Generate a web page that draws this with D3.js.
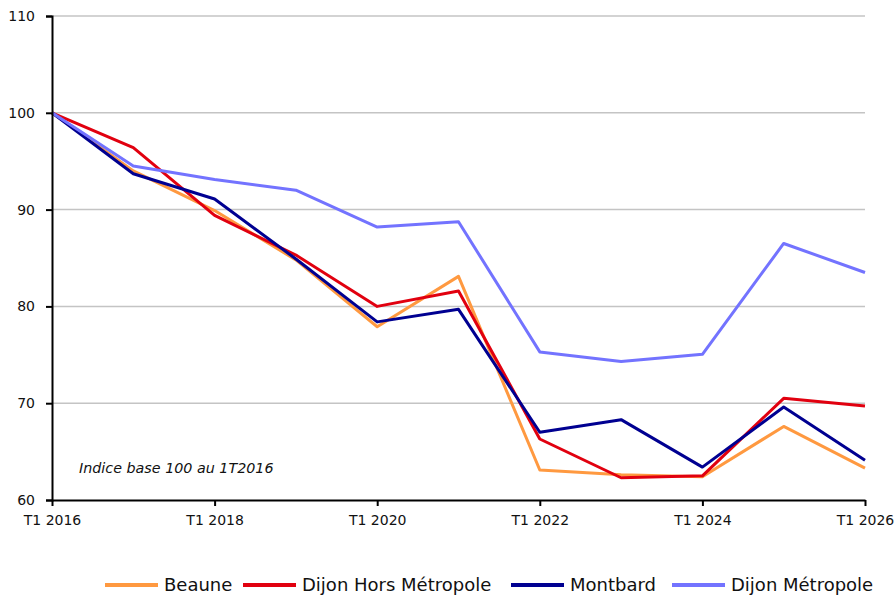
<!DOCTYPE html>
<html>
<head>
<meta charset="utf-8">
<script src="https://cdn.jsdelivr.net/npm/d3@7"></script>
<style>
  body { margin: 0; background: #fff; }
  svg { display: block; font-family: "DejaVu Sans", sans-serif; }
</style>
</head>
<body>
<svg id="chart" width="895" height="596"></svg>
<script>
var years = [2016, 2017, 2018, 2019, 2020, 2021, 2022, 2023, 2024, 2025, 2026];
var tickYears = [2016, 2018, 2020, 2022, 2024, 2026];
var yTicks = [60, 70, 80, 90, 100, 110];

var beaune = [100, 94.0, 89.9, 84.8, 77.9, 83.1, 63.1, 62.6, 62.4, 67.6, 63.3];
var dijonHors = [100, 96.4, 89.4, 85.3, 80.0, 81.6, 66.3, 62.3, 62.5, 70.5, 69.7];
var montbard = [100, 93.7, 91.1, 84.9, 78.4, 79.7, 67.0, 68.3, 63.4, 69.6, 64.1];
var dijonMetro = [100, 94.5, 93.1, 92.0, 88.2, 88.75, 75.3, 74.3, 75.05, 86.5, 83.5];

var seriesNames = ["Beaune", "Dijon Hors Métropole", "Montbard", "Dijon Métropole"];
var seriesData = [beaune, dijonHors, montbard, dijonMetro];
var colors = ["#FF9940", "#E1000F", "#000091", "#7373FF"];

var svg = d3.select("svg#chart");

var x = d3.scaleLinear().domain([2016, 2026]).range([52, 865]);
var y = d3.scaleLinear().domain([60, 110]).range([500, 16]);

// gridlines
svg.append("g")
  .selectAll("line")
  .data(yTicks.filter(function(d) { return d > 60; }))
  .enter().append("line")
    .attr("x1", x(2016)).attr("x2", x(2026))
    .attr("y1", function(d) { return y(d); })
    .attr("y2", function(d) { return y(d); })
    .attr("stroke", "#c4c4c4")
    .attr("stroke-width", 1.5);

// series lines
var line = d3.line()
  .x(function(d, i) { return x(years[i]); })
  .y(function(d) { return y(d); });

svg.append("g")
  .selectAll("path")
  .data(seriesData)
  .enter().append("path")
    .attr("d", line)
    .attr("fill", "none")
    .attr("stroke", function(d, i) { return colors[i]; })
    .attr("stroke-width", 3)
    .attr("stroke-linejoin", "round");

// y axis
var yAxis = svg.append("g")
  .attr("transform", "translate(" + x(2016) + ",0)")
  .call(d3.axisLeft(y).tickValues(yTicks).tickSize(6).tickPadding(11));
yAxis.select(".domain").attr("stroke", "#000").attr("stroke-width", 2);
yAxis.selectAll(".tick line").attr("stroke", "#000").attr("stroke-width", 2);
yAxis.selectAll(".tick text")
  .attr("fill", "#111")
  .style("font-size", "14px")
  .style("font-family", "'DejaVu Sans', sans-serif");

// x axis
var xAxis = svg.append("g")
  .attr("transform", "translate(0," + y(60) + ")")
  .call(d3.axisBottom(x).tickValues(tickYears).tickSize(6).tickSizeOuter(0).tickPadding(9)
    .tickFormat(function(d) { return "T1 " + d; }));
xAxis.select(".domain").attr("stroke", "#000").attr("stroke-width", 2);
xAxis.selectAll(".tick line").attr("stroke", "#000").attr("stroke-width", 2);
xAxis.selectAll(".tick text")
  .attr("fill", "#111")
  .style("font-size", "14px")
  .style("font-family", "'DejaVu Sans', sans-serif");

// annotation
svg.append("text")
  .attr("x", 79).attr("y", 473)
  .style("font-size", "14.3px")
  .style("font-style", "italic")
  .attr("fill", "#111")
  .text("Indice base 100 au 1T2016");

// legend
var legendX = [105, 243, 511, 672];
var legend = svg.append("g")
  .selectAll("g")
  .data(seriesNames)
  .enter().append("g")
    .attr("transform", function(d, i) { return "translate(" + legendX[i] + ",585)"; });
legend.append("line")
  .attr("x1", 0).attr("x2", 53)
  .attr("stroke", function(d, i) { return colors[i]; })
  .attr("stroke-width", 4);
legend.append("text")
  .attr("x", 59).attr("y", 6)
  .style("font-size", "18px")
  .attr("fill", "#111")
  .text(function(d) { return d; });
</script>
</body>
</html>
